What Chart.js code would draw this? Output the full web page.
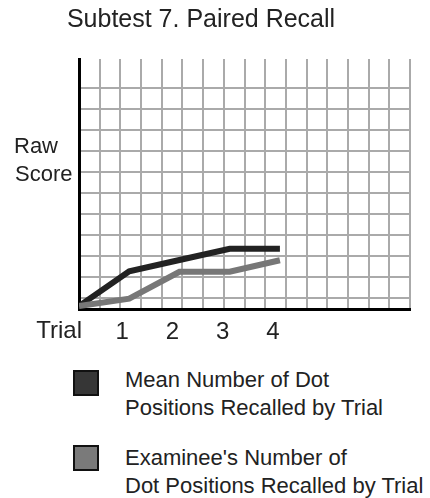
<!DOCTYPE html>
<html>
<head>
<meta charset="utf-8">
<script src="https://cdn.jsdelivr.net/npm/chart.js@4/dist/chart.umd.min.js"></script>
<style>
  body { margin: 0; background: #fff; font-family: "Liberation Sans", Arial, sans-serif; color: #222; }
  #wrap { position: relative; width: 430px; height: 498px; }
  #recallChart { position: absolute; left: 0; top: 0; }
  .key { position: absolute; left: 73px; width: 22px; height: 22px; border: 2px solid #111; }
  .keytext { position: absolute; left: 125px; font-size: 22px; line-height: 28px; white-space: nowrap; }
</style>
</head>
<body>
<div id="wrap">
  <canvas id="recallChart" width="430" height="356"></canvas>
  <div class="key" style="top:370px; background:#363636"></div>
  <div class="keytext" style="top:366px">Mean Number of Dot<br>Positions Recalled by Trial</div>
  <div class="key" style="top:445px; background:#7a7a7a"></div>
  <div class="keytext" style="top:444px">Examinee's Number of<br>Dot Positions Recalled by Trial</div>
</div>
<script>
// dados (eixo y em unidades da grade)
var trials = [0, 1, 2, 3, 4]
var trialTicks = [1, 2, 3, 4]
var meanScores = [0.15, 1.8, 2.34, 2.87, 2.87]
var examineeScores = [0.15, 0.5, 1.78, 1.78, 2.33]

// faixa dos eixos e grade
var xMax = 6.59
var gridCols = 16
var yMax = 11.9
var yFirstLine = 0.53
var gridRows = 11

Chart.defaults.font.family = '"Liberation Sans", Arial, sans-serif'
Chart.defaults.color = '#222'

function pontos(valores) {
    return trials.map(function (t, i) { return { x: t, y: valores[i] } })
}

// textos "Raw Score" e "Trial" ao lado dos eixos
var legendasEixos = {
    id: 'legendasEixos',
    afterDraw: function (chart) {
        var ctx = chart.ctx
        var area = chart.chartArea
        ctx.save()
        ctx.fillStyle = '#222'
        ctx.textBaseline = 'middle'
        ctx.font = '22px "Liberation Sans", Arial, sans-serif'
        ctx.textAlign = 'left'
        ctx.fillText('Raw', 14, 147)
        ctx.fillText('Score', 15, 175)
        ctx.font = '24px "Liberation Sans", Arial, sans-serif'
        ctx.textAlign = 'right'
        ctx.fillText('Trial', area.left + 3, 331)
        ctx.restore()
    }
}

var grafico = new Chart(document.getElementById('recallChart'), {
    type: 'line',
    data: {
        datasets: [{
            label: 'Mean Number of Dot Positions Recalled by Trial',
            data: pontos(meanScores),
            borderColor: '#222',
            borderWidth: 6,
            borderCapStyle: 'butt',
            tension: 0,
            pointRadius: 0,
            order: 1
        }, {
            label: "Examinee's Number of Dot Positions Recalled by Trial",
            data: pontos(examineeScores),
            borderColor: '#777',
            borderWidth: 6,
            borderCapStyle: 'butt',
            tension: 0,
            pointRadius: 0,
            order: 0
        }]
    },
    options: {
        responsive: false,
        animation: false,
        layout: { padding: { left: -8, right: 20, top: 0, bottom: 0 } },
        plugins: {
            legend: { display: false },
            tooltip: { enabled: false },
            title: {
                display: true,
                text: 'Subtest 7. Paired Recall',
                color: '#222',
                font: { size: 25, weight: 'normal' },
                padding: { top: 5, bottom: 24 }
            }
        },
        scales: {
            x: {
                type: 'linear',
                min: 0,
                max: xMax,
                afterBuildTicks: function (axis) {
                    var t = []
                    for (var k = 0; k <= gridCols; k++) t.push({ value: k * xMax / gridCols })
                    trialTicks.forEach(function (v) { t.push({ value: v, trial: true }) })
                    axis.ticks = t
                },
                grid: {
                    drawTicks: false,
                    lineWidth: 2,
                    color: function (c) { return c.tick && c.tick.trial ? 'rgba(0,0,0,0)' : '#aaa' }
                },
                border: { display: true, color: '#000', width: 3 },
                ticks: {
                    autoSkip: false,
                    maxRotation: 0,
                    padding: 9,
                    labelOffset: -7,
                    color: '#222',
                    font: { size: 24 },
                    callback: function (value, i, ticks) { return ticks[i].trial ? String(value) : '' }
                }
            },
            y: {
                type: 'linear',
                min: 0,
                max: yMax,
                afterBuildTicks: function (axis) {
                    var t = []
                    for (var k = 0; k < gridRows; k++) t.push({ value: yFirstLine + k })
                    axis.ticks = t
                },
                afterFit: function (scale) { scale.width = 87 },
                grid: { drawTicks: false, lineWidth: 2, color: '#aaa' },
                border: { display: true, color: '#000', width: 3 },
                ticks: { display: false }
            }
        }
    },
    plugins: [legendasEixos]
})
</script>
</body>
</html>
